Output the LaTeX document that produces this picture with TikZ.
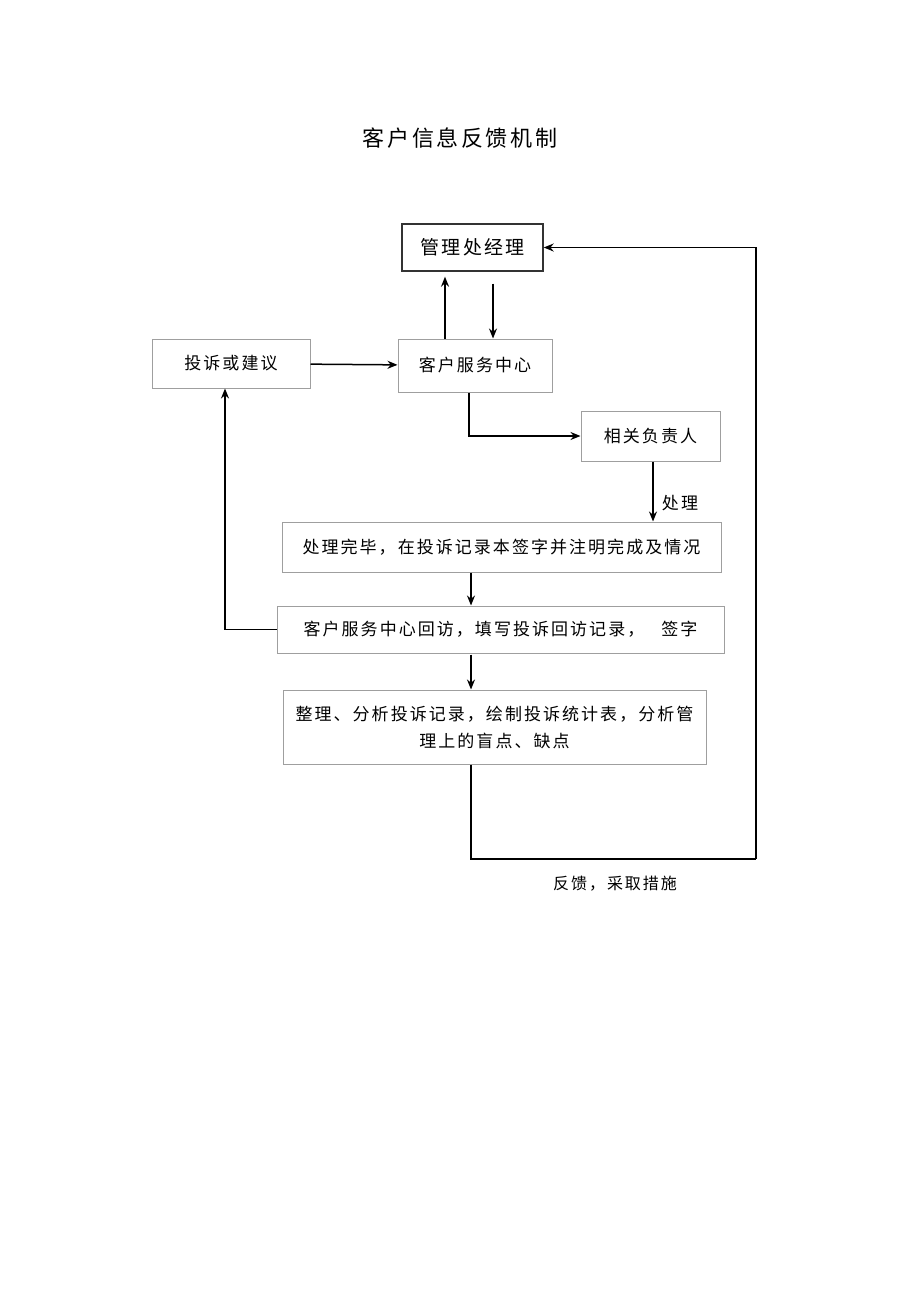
\documentclass[tikz,border=0pt]{standalone}
\usepackage{fontspec}
\setmainfont{Noto Sans CJK SC}
\newfontfamily\spacedcjk[LetterSpace=12]{Noto Sans CJK SC}
\usetikzlibrary{arrows.meta}
\begin{document}
\begin{tikzpicture}[x=1pt,y=-1pt,
    module/.style={rectangle,draw=gray!75,line width=1pt,inner sep=0pt,align=center,font=\fontsize{17}{27}\spacedcjk},
    arrow/.style={->,line width=1.5pt,>={Stealth[length=10pt 0,width=8pt 0]}},
    flow/.style={line width=1.5pt}
]
    \useasboundingbox (0,0) rectangle (920,1301);
    % Title
    \node[font=\fontsize{22}{26}\spacedcjk] (title) at (460,138) {客户信息反馈机制};

    % Top: manager
    \node[module,draw=black!80,line width=1.4pt,minimum width=141pt,minimum height=47pt,font=\fontsize{19}{24}\spacedcjk] (manager) at (472.5,247.5) {管理处经理};

    % Row 2
    \node[module,minimum width=158pt,minimum height=49pt] (complaint) at (231,363.5) {投诉或建议};
    \node[module,minimum width=154pt,minimum height=53pt] (service) at (475,365.5) {客户服务中心};
    \node[module,minimum width=139pt,minimum height=50pt] (owner) at (650.5,436) {相关负责人};

    % Process chain
    \node[module,minimum width=439pt,minimum height=50pt] (done) at (501.5,547) {处理完毕，在投诉记录本签字并注明完成及情况};
    \node[module,minimum width=447pt,minimum height=47pt] (revisit) at (500.5,629.5) {客户服务中心回访，填写投诉回访记录，\quad 签字};
    \node[module,minimum width=423pt,minimum height=74pt] (analyse) at (494.5,727) {整理、分析投诉记录，绘制投诉统计表，分析管\\理上的盲点、缺点};

    % Labels
    \node[font=\fontsize{17}{20}\spacedcjk] (handle) at (680,503) {处理};
    \node[font=\fontsize{16}{20}\spacedcjk] (feedback) at (615,884) {反馈，采取措施};
    \coordinate (fbcorner) at (471,859);
    \coordinate (fbright) at (756,859);

    % Arrows
    \draw[arrow] ([xshift=-30pt]service.north) -- ([xshift=-30pt,yshift=-5pt]service.north |- manager.south);
    \draw[arrow] ([xshift=20.5pt,yshift=-12pt]manager.south) -- ([xshift=20.5pt]manager.south |- service.north);
    \draw[arrow] (complaint) -- (service);
    \draw[arrow] ([xshift=-6pt]service.south) |- (owner);
    \draw[arrow] ([xshift=2.5pt]owner.south) -- ([xshift=2.5pt]owner.south |- done.north);
    \draw[arrow] (done.south -| fbcorner) -- (revisit.north -| fbcorner);
    \draw[arrow] (revisit.west) -| ([xshift=-6pt]complaint.south);
    \draw[arrow] ([yshift=-1pt]revisit.south -| fbcorner) -- (analyse.north -| fbcorner);
    \draw[flow] (analyse.south -| fbcorner) -- (fbcorner) -- (fbright);
    \draw[arrow] (fbright) |- (manager.east);
\end{tikzpicture}
\end{document}
